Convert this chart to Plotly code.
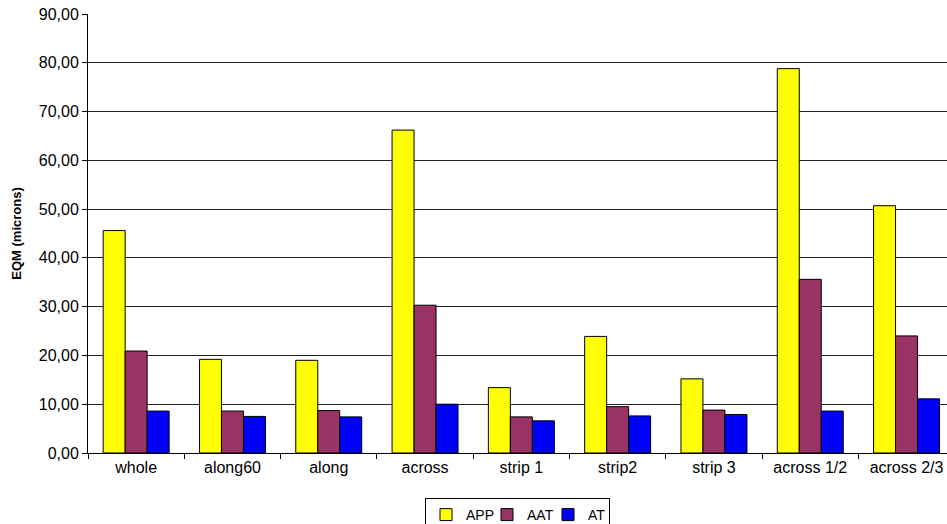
import plotly.graph_objects as go

# Measurement groups and RMS error (microns) per method
categories = ["whole", "along60", "along", "across", "strip 1", "strip2", "strip 3", "across 1/2", "across 2/3"]
app = [45.6, 19.2, 19.0, 66.2, 13.4, 23.9, 15.2, 78.8, 50.7]
aat = [20.9, 8.6, 8.7, 30.3, 7.4, 9.5, 8.8, 35.6, 24.0]
at = [8.6, 7.5, 7.4, 10.0, 6.6, 7.6, 7.9, 8.6, 11.1]

series = [("APP", app, "#FFFF00"), ("AAT", aat, "#993366"), ("AT", at, "#0000FF")]

FONT = "Liberation Sans, Arial, sans-serif"

fig = go.Figure()
for name, vals, color in series:
    fig.add_trace(go.Bar(
        x=categories, y=vals, name=name,
        marker=dict(color=color, line=dict(color="#000000", width=1)),
    ))

fig.update_layout(
    width=947, height=524,
    margin=dict(l=88, r=0, t=14, b=71),
    paper_bgcolor="white", plot_bgcolor="white",
    barmode="group", bargap=0.315, bargroupgap=0,
    separators=", ",
    font=dict(family=FONT, size=16, color="#000000"),
    showlegend=True,
    legend=dict(
        orientation="h", x=0.5, xanchor="center",
        yref="container", y=1 - 498 / 524, yanchor="top",
        bordercolor="#000000", borderwidth=1, bgcolor="white",
        font=dict(family=FONT, size=14),
        itemwidth=30, tracegroupgap=0,
        entrywidthmode="pixels", entrywidth=16,
    ),
    xaxis=dict(
        type="category", range=[-0.5, 8.42],
        showline=True, linecolor="#000000", linewidth=1,
        ticks="outside", ticklen=5, tickcolor="#000000", tickson="boundaries",
        showgrid=False, tickfont=dict(size=16),
    ),
    yaxis=dict(
        range=[0, 90], dtick=10, tickformat=".2f",
        showline=True, linecolor="#000000", linewidth=1,
        ticks="outside", ticklen=5, tickcolor="#000000",
        showgrid=True, gridcolor="#222222", gridwidth=1,
        zeroline=False, tickfont=dict(size=16),
        title=dict(text="<b>EQM (microns)</b>", font=dict(size=13), standoff=14),
    ),
)

fig.write_html("out.html")
